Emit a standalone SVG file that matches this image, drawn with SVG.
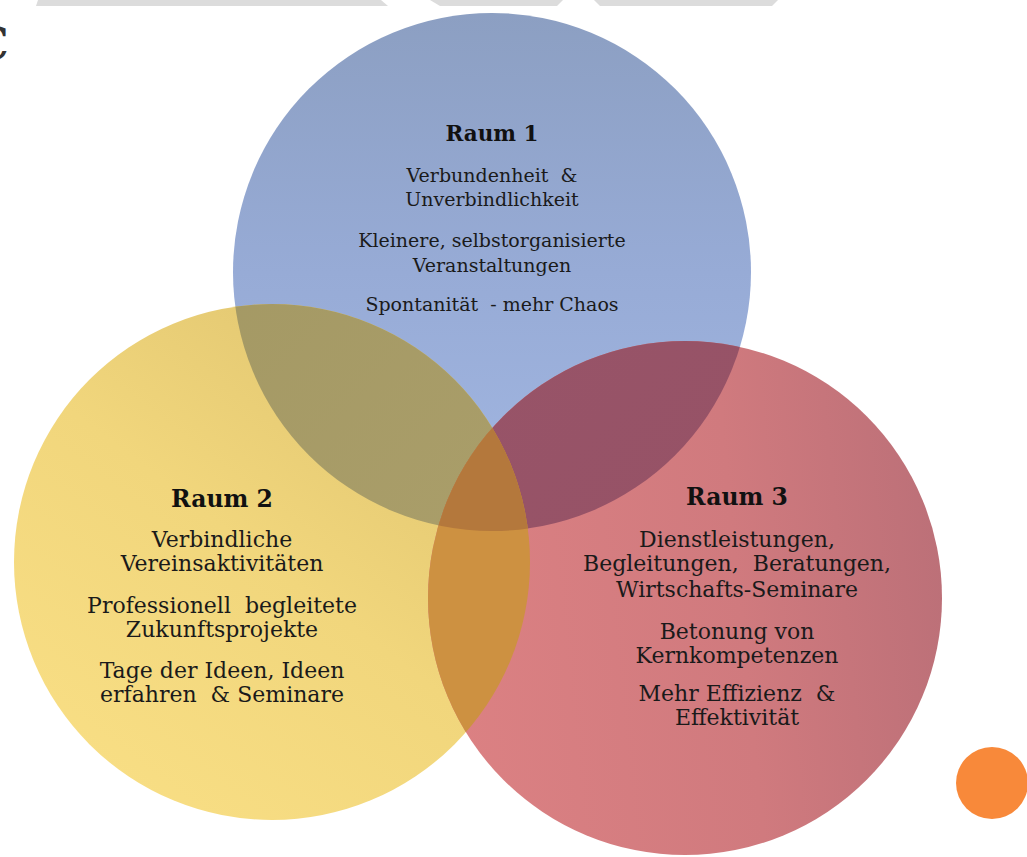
<svg xmlns="http://www.w3.org/2000/svg" width="1027" height="857" viewBox="0 0 1027 857">
<defs>
  <linearGradient id="gBlue" x1="0" y1="0" x2="0" y2="1">
    <stop offset="0" stop-color="#8C9FC2"/>
    <stop offset="0.5" stop-color="#97ABD6"/>
    <stop offset="1" stop-color="#A2B7E2"/>
  </linearGradient>
  <linearGradient id="gYellow" x1="0.85" y1="0.1" x2="0.2" y2="0.95">
    <stop offset="0" stop-color="#E0C570"/>
    <stop offset="0.5" stop-color="#F1D67C"/>
    <stop offset="1" stop-color="#F8DE84"/>
  </linearGradient>
  <linearGradient id="gRed" x1="0" y1="0.5" x2="1" y2="0.4">
    <stop offset="0" stop-color="#DC8183"/>
    <stop offset="0.6" stop-color="#D07A7E"/>
    <stop offset="1" stop-color="#BC7078"/>
  </linearGradient>
  <linearGradient id="gOlive" x1="0" y1="0" x2="1" y2="1">
    <stop offset="0" stop-color="#A29762"/>
    <stop offset="1" stop-color="#ACA06C"/>
  </linearGradient>
  <linearGradient id="gMauve" x1="0" y1="0" x2="1" y2="1">
    <stop offset="0" stop-color="#9A566B"/>
    <stop offset="1" stop-color="#965266"/>
  </linearGradient>
  <clipPath id="cBlue"><circle cx="492" cy="272" r="259"/></clipPath>
  <clipPath id="cYellow"><circle cx="272" cy="562" r="258"/></clipPath>
  <clipPath id="cRed"><circle cx="685" cy="598" r="257"/></clipPath>
  <style>
    text { font-family: "DejaVu Serif", "Liberation Serif", serif; text-anchor: middle; white-space: pre; }
    .title { font-weight: bold; fill: #111; }
    .body { fill: #1a1a1a; }
    .r1 .title { font-size: 21.5px; }
    .r1 .body { font-size: 19px; }
    .r23 .title { font-size: 23.5px; }
    .r23 .body { font-size: 22px; }
    .bar { fill: #DCDCDC; }
  </style>
</defs>
<rect width="1027" height="857" fill="#FFFFFF"/>
<g id="header">
  <polygon class="bar" points="38,0 381,0 388,6 36,6"/>
  <polygon class="bar" points="430,0 563,0 557,6 440,6"/>
  <polygon class="bar" points="594,0 778,0 772,6 600,6"/>
  <text x="-26" y="60" font-family="Liberation Serif, serif" font-size="46" fill="#333" style="text-anchor:start">C</text>
</g>
<g id="circles">
  <g id="raum1-circle"><circle cx="492" cy="272" r="259" fill="url(#gBlue)"/></g>
  <g id="raum2-circle"><circle cx="272" cy="562" r="258" fill="url(#gYellow)"/></g>
  <g id="raum3-circle"><circle cx="685" cy="598" r="257" fill="url(#gRed)"/></g>
  <g id="overlaps">
    <circle cx="492" cy="272" r="259" fill="url(#gOlive)" clip-path="url(#cYellow)"/>
    <circle cx="492" cy="272" r="259" fill="url(#gMauve)" clip-path="url(#cRed)"/>
    <circle cx="272" cy="562" r="258" fill="#CD9141" clip-path="url(#cRed)"/>
    <g clip-path="url(#cRed)">
      <circle cx="492" cy="272" r="259" fill="#B4783C" clip-path="url(#cYellow)"/>
    </g>
  </g>
</g>
<g id="raum1" class="r1">
  <text class="title" x="492" y="141">Raum 1</text>
  <text class="body" x="492" y="182">Verbundenheit  &amp;</text>
  <text class="body" x="492" y="206">Unverbindlichkeit</text>
  <text class="body" x="492" y="247">Kleinere, selbstorganisierte</text>
  <text class="body" x="492" y="272">Veranstaltungen</text>
  <text class="body" x="492" y="311">Spontanität  - mehr Chaos</text>
</g>
<g id="raum2" class="r23">
  <text class="title" x="222" y="507">Raum 2</text>
  <text class="body" x="222" y="547">Verbindliche</text>
  <text class="body" x="222" y="571">Vereinsaktivitäten</text>
  <text class="body" x="222" y="613">Professionell  begleitete</text>
  <text class="body" x="222" y="637">Zukunftsprojekte</text>
  <text class="body" x="222" y="678">Tage der Ideen, Ideen</text>
  <text class="body" x="222" y="702">erfahren  &amp; Seminare</text>
</g>
<g id="raum3" class="r23">
  <text class="title" x="737" y="505">Raum 3</text>
  <text class="body" x="737" y="547">Dienstleistungen,</text>
  <text class="body" x="737" y="571">Begleitungen,  Beratungen,</text>
  <text class="body" x="737" y="597">Wirtschafts-Seminare</text>
  <text class="body" x="737" y="639">Betonung von</text>
  <text class="body" x="737" y="663">Kernkompetenzen</text>
  <text class="body" x="737" y="701">Mehr Effizienz  &amp;</text>
  <text class="body" x="737" y="725">Effektivität</text>
</g>
<g id="orange-dot"><circle cx="992" cy="783" r="36" fill="#F8893A"/></g>
</svg>
